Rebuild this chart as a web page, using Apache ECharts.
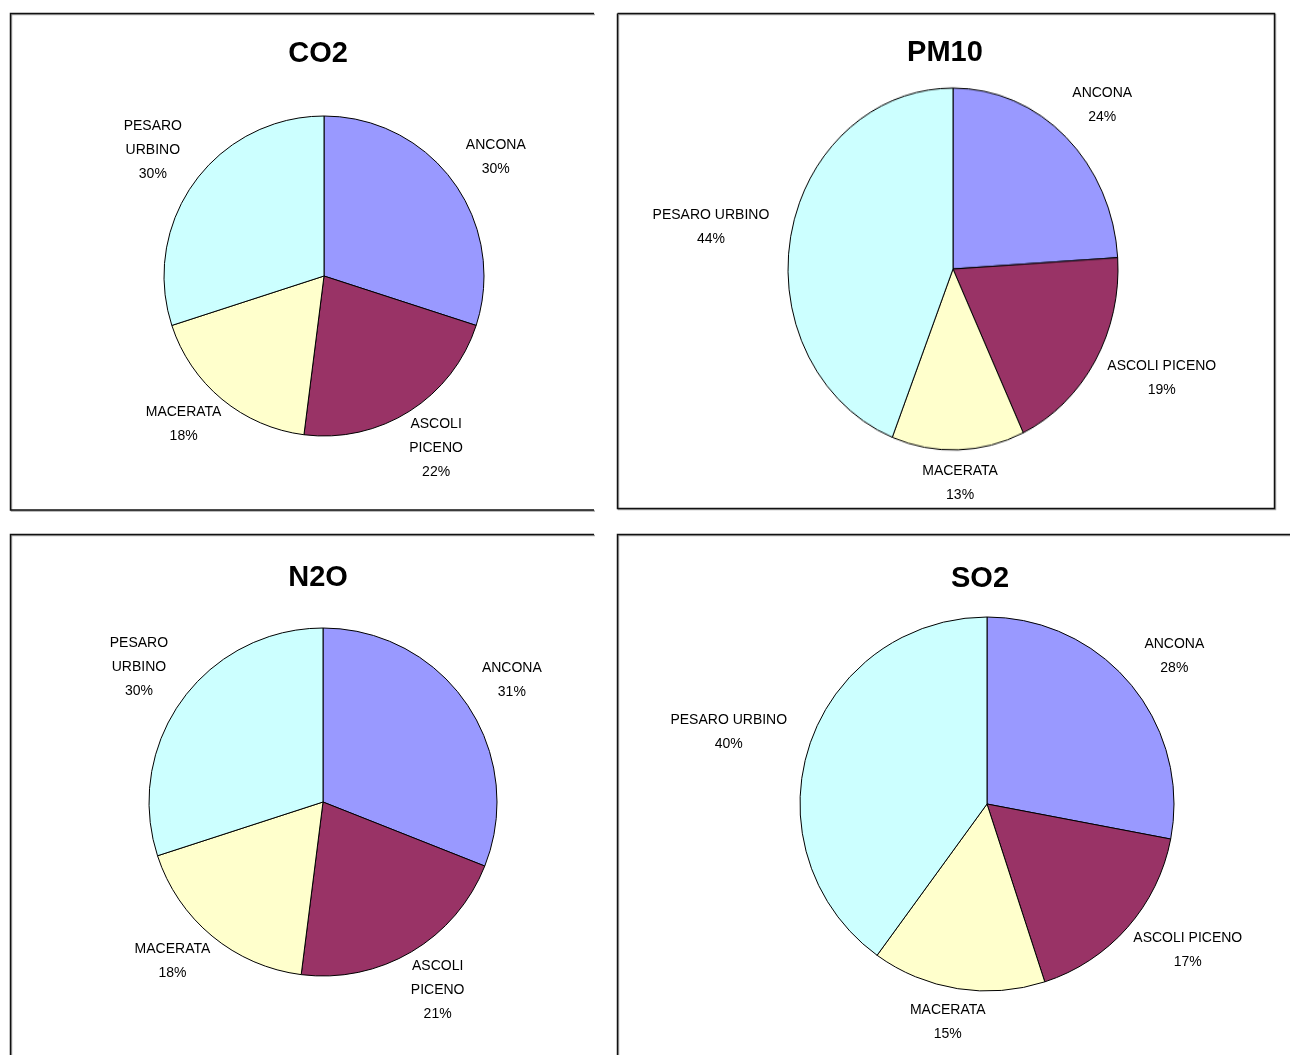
<!DOCTYPE html>
<html>
<head>
<meta charset="utf-8">
<script src="https://cdn.jsdelivr.net/npm/echarts@6/dist/echarts.min.js"></script>
<style>
  html, body { margin: 0; padding: 0; background: #ffffff; }
  #page { position: relative; width: 1290px; height: 1055px; overflow: hidden; }
  #chart { position: absolute; left: 0; top: 0; width: 1290px; height: 1055px; }
  .pie-layer { position: absolute; transform-origin: 50% 50%; }
</style>
</head>
<body>
<div id="page"><div id="chart"></div></div>
<script>
// Emission shares by province (%)
const provinces = ['ANCONA', 'ASCOLI PICENO', 'MACERATA', 'PESARO URBINO'];
const co2Share  = [30, 22, 18, 30];
const pm10Share = [24, 19, 13, 44];
const n2oShare  = [31, 21, 18, 30];
const so2Share  = [28, 17, 15, 40];
const pollutants = ['CO2', 'PM10', 'N2O', 'SO2'];

const sliceColors = ['#9999FF', '#993366', '#FFFFCC', '#CCFFFF'];
const FONT = '"Liberation Sans", Arial, sans-serif';

// Panel layout: pie centre, horizontal / vertical radius, title anchor, label wrapping
const panels = [
  { name: pollutants[0], values: co2Share,  center: [324, 276], rx: 160, ry: 160, titleAt: [318, 54],  wrap: true },
  { name: pollutants[1], values: pm10Share, center: [953, 269], rx: 165, ry: 181, titleAt: [945, 53],  wrap: false },
  { name: pollutants[2], values: n2oShare,  center: [323, 802], rx: 174, ry: 174, titleAt: [318, 578], wrap: true },
  { name: pollutants[3], values: so2Share,  center: [987, 804], rx: 187, ry: 187, titleAt: [980, 579], wrap: false }
];

const LABEL_RING = 1.4;        // outer edge of the invisible ring that carries the labels
const LABEL_GAP = 1.14;        // distance of the label anchor from the centre, in radii
const LABEL_GAP_LOWER = 1.08;  // slightly tighter below the centre line

function sliceData(values) {
  return provinces.map((p, i) => ({ name: p, value: values[i] }));
}

// Place each label outside the rim along its slice's mid direction,
// offset by half its box so the box stays clear of the pie.
function outsideEnd(params) {
  const pn = panels[params.seriesIndex];
  const lr = params.labelRect;
  const lx = lr.x + lr.width / 2 - pn.center[0];
  const ly = lr.y + lr.height / 2 - pn.center[1];
  const len = Math.sqrt(lx * lx + ly * ly) || 1;
  const ux = lx / len, uy = ly / len;
  const gy = uy > 0 ? LABEL_GAP_LOWER : LABEL_GAP;
  return {
    x: pn.center[0] + LABEL_GAP * pn.rx * ux + ux * lr.width / 2,
    y: pn.center[1] + gy * pn.ry * uy + uy * (lr.height - 10) / 2,
    align: 'center',
    verticalAlign: 'middle'
  };
}

// Main layer: frames, titles and the (transparent) label rings
const labelSeries = panels.map((pn) => ({
  type: 'pie',
  center: pn.center,
  radius: [pn.rx, pn.rx * LABEL_RING],
  startAngle: 90,
  clockwise: true,
  silent: true,
  animation: false,
  avoidLabelOverlap: false,
  percentPrecision: 0,
  itemStyle: { color: 'rgba(0,0,0,0)', borderWidth: 0 },
  emphasis: { disabled: true },
  labelLine: { show: false },
  labelLayout: outsideEnd,
  label: {
    show: true,
    position: 'inside',
    rotate: 0,
    color: '#000000',
    fontFamily: FONT,
    fontSize: 14,
    lineHeight: 24,
    textBorderWidth: 0,
    align: 'center',
    formatter: (p) => {
      const name = pn.wrap ? p.name.replace(' ', '\n') : p.name;
      return name + '\n' + p.percent + '%';
    }
  },
  data: sliceData(pn.values)
}));

const frameStyle = {
  stroke: '#111111', lineWidth: 1.5, fill: null,
  shadowColor: 'rgba(0,0,0,0.35)', shadowOffsetX: 1, shadowOffsetY: 1, shadowBlur: 0
};
const graphic = [
  { type: 'polyline', shape: { points: [[594, 13.5], [10.5, 13.5], [10.5, 510], [594, 510]] }, style: frameStyle, silent: true },
  { type: 'polyline', shape: { points: [[617.5, 13.5], [1274.5, 13.5], [1274.5, 508.5], [617.5, 508.5], [617.5, 13.5]] }, style: frameStyle, silent: true },
  { type: 'polyline', shape: { points: [[594, 534.5], [10.5, 534.5], [10.5, 1060]] }, style: frameStyle, silent: true },
  { type: 'polyline', shape: { points: [[1295, 534.5], [617.5, 534.5], [617.5, 1060]] }, style: frameStyle, silent: true }
];
panels.forEach((pn) => {
  graphic.push({
    type: 'text',
    x: pn.titleAt[0],
    y: pn.titleAt[1],
    z: 10,
    silent: true,
    style: {
      text: pn.name,
      align: 'center',
      verticalAlign: 'middle',
      fill: '#000000',
      font: 'bold 29px ' + FONT
    }
  });
});

const mainChart = echarts.init(document.getElementById('chart'), null, { renderer: 'canvas' });
mainChart.setOption({
  backgroundColor: '#ffffff',
  animation: false,
  series: labelSeries,
  graphic: graphic
});

// Pie layers: one small chart per panel, stretched vertically when the pie is oval
const page = document.getElementById('page');
panels.forEach((pn) => {
  const size = 2 * pn.rx + 6;
  const div = document.createElement('div');
  div.className = 'pie-layer';
  div.style.width = size + 'px';
  div.style.height = size + 'px';
  div.style.left = (pn.center[0] - size / 2) + 'px';
  div.style.top = (pn.center[1] - size / 2) + 'px';
  div.style.transform = 'scaleY(' + (pn.ry / pn.rx) + ')';
  page.appendChild(div);
  const pie = echarts.init(div, null, { renderer: 'canvas' });
  pie.setOption({
    animation: false,
    series: [{
      type: 'pie',
      center: ['50%', '50%'],
      radius: pn.rx,
      startAngle: 90,
      clockwise: true,
      silent: true,
      animation: false,
      color: sliceColors,
      label: { show: false },
      labelLine: { show: false },
      itemStyle: { borderColor: '#000000', borderWidth: 1 },
      emphasis: { disabled: true },
      data: sliceData(pn.values)
    }]
  });
});
</script>
</body>
</html>
